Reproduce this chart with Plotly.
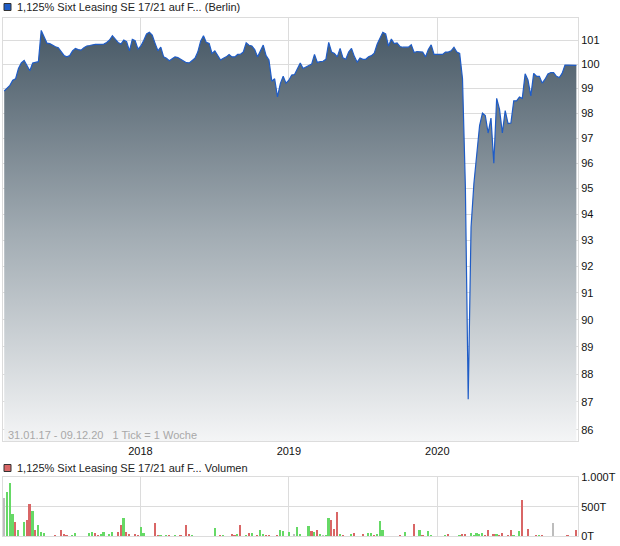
import math
import pandas as pd
import plotly.graph_objects as go

start_date = "2017-01-31"
end_label = "31.01.17 - 09.12.20\u00a0\u00a0\u00a01 Tick = 1 Woche"

prices = [
    98.90, 99.00, 99.13, 99.34, 99.40, 99.82, 100.05, 100.15, 99.95, 99.73,
    100.05, 100.07, 100.10, 101.40, 101.15, 100.87, 100.85, 100.77, 100.72, 100.68,
    100.50, 100.36, 100.30, 100.35, 100.55, 100.65, 100.60, 100.58, 100.68, 100.75,
    100.77, 100.80, 100.82, 100.82, 100.84, 100.83, 100.90, 101.00, 101.18, 101.05,
    100.90, 100.83, 101.00, 100.93, 100.55, 101.03, 100.97, 100.62, 100.75, 100.98,
    101.25, 101.32, 101.20, 100.86, 100.55, 100.70, 100.30, 100.24, 100.14, 100.22,
    100.30, 100.27, 100.20, 100.12, 100.06, 100.05, 100.14, 100.24, 100.50, 100.95,
    101.18, 100.90, 100.86, 100.44, 100.55, 100.38, 100.17, 100.24, 100.30, 100.40,
    100.30, 100.30, 100.40, 100.41, 100.50, 100.88, 100.78, 100.75, 100.60, 100.30,
    100.55, 100.79, 100.35, 100.17, 99.30, 99.40, 98.66, 99.20, 99.50, 99.22,
    99.34, 99.55, 99.57, 99.78, 100.05, 99.82, 99.88, 99.97, 100.00, 100.40,
    100.07, 100.10, 100.12, 100.20, 100.90, 100.50, 100.44, 100.30, 100.65, 100.26,
    100.20, 100.50, 100.65, 100.32, 100.08, 100.25, 100.20, 100.20, 100.30, 100.35,
    100.45, 100.82, 101.10, 101.32, 101.25, 100.75, 101.04, 100.85, 100.88, 100.73,
    100.70, 100.70, 100.70, 100.80, 100.48, 100.52, 100.52, 100.50, 100.30, 100.60,
    100.80, 100.40, 100.40, 100.40, 100.40, 100.50, 100.50, 100.55, 100.70, 100.50,
    100.44, 99.40, 95.10, 87.10, 93.50, 95.20, 96.50, 97.50, 98.00, 97.90,
    97.20, 97.80, 96.00, 98.60, 98.15, 97.20, 98.10, 97.58, 97.60, 98.50,
    98.50, 98.65, 98.60, 99.60, 99.35, 98.70, 99.62, 99.50, 99.50, 99.22,
    99.38, 99.60, 99.65, 99.65, 99.50, 99.45, 99.62, 99.96, 99.96, 99.96,
    99.96, 99.95,
]

volumes = [
    641, 753, 905, 377, 247, 107, 0, 247, 275, 545,
    433, 107, 191, 67, 62, 0, 0, 0, 11, 0,
    107, 39, 22, 0, 11, 56, 0, 0, 0, 0,
    62, 67, 51, 17, 34, 73, 0, 39, 73, 0,
    73, 191, 315, 67, 45, 0, 39, 28, 157, 56,
    0, 0, 0, 225, 22, 22, 0, 11, 22, 0,
    22, 0, 11, 0, 197, 39, 11, 0, 0, 0,
    0, 0, 0, 0, 146, 0, 22, 11, 0, 0,
    39, 28, 39, 191, 0, 22, 56, 56, 0, 22,
    107, 39, 22, 22, 0, 0, 22, 107, 90, 0,
    73, 0, 39, 157, 39, 0, 0, 174, 90, 73,
    107, 39, 22, 22, 309, 275, 129, 410, 39, 11,
    0, 0, 39, 56, 0, 0, 39, 0, 56, 56,
    28, 39, 259, 107, 0, 0, 0, 0, 0, 22,
    0, 73, 0, 0, 208, 0, 107, 28, 0, 90,
    11, 0, 0, 0, 0, 28, 39, 0, 0, 0,
    22, 39, 39, 0, 56, 28, 56, 39, 56, 28,
    107, 0, 39, 39, 22, 56, 0, 22, 107, 22,
    0, 90, 613, 0, 124, 0, 0, 22, 22, 22,
    0, 0, 0, 225, 0, 0, 0, 0, 11, 0,
    0, 107,
]

# u = up week, d = down week, n = unchanged, - = no trade
vol_dir = ("nuuudu-udd" "uduuu---d-" "ddd-uu----" "uudduu-uu-" "ddudd-dduu"
           "---ddu-ud-" "u-d-ddu---" "----u-du--" "ddud-udu-d" "uudd--duu-"
           "u-nuu--udu" "dunuudddud" "--ud--d-uu" "duuu-----d" "-u--d-ud-u"
           "u----ud---" "udd-uuuuud" "d-dudd-ddu" "-ud-d--dud" "---n----d-"
           "-d")

year_ticks = ["2018-01-01", "2019-01-01", "2020-01-01"]
year_labels = ["2018", "2019", "2020"]
price_ticks = list(range(86, 102))
vol_ticks = [0, 500, 1000]
vol_labels = ["0T", "500T", "1.000T"]
series_name = "1,125% Sixt Leasing SE 17/21 auf F..."

dates = pd.date_range(start_date, periods=len(prices), freq="7D")
dir_colors = {"u": "#66d966", "d": "#d96666", "n": "#bdbdbd", "-": "#bdbdbd"}
bar_colors = [dir_colors[c] for c in vol_dir]

W, H = 620, 546
FONT = "Liberation Sans, Arial, sans-serif"
GRID = "#dcdcdc"

def px_x(p):
    return p / W

def px_y(p):
    return 1 - p / H

fig = go.Figure()
fig.add_trace(go.Scatter(
    x=dates, y=[85.0] * len(dates), mode="lines", line=dict(width=0),
    hoverinfo="skip", showlegend=False, xaxis="x", yaxis="y"))
fig.add_trace(go.Scatter(
    x=dates, y=prices, mode="lines",
    line=dict(color="#1f5cc6", width=1.2),
    fill="tonexty",
    fillgradient=dict(type="vertical",
                      colorscale=[[0, "#f4f5f6"], [0.5, "#a2acb3"], [1, "#475865"]],
                      start=85.6, stop=101.5),
    showlegend=False, xaxis="x", yaxis="y"))
fig.add_trace(go.Bar(
    x=dates, y=volumes, marker=dict(color=bar_colors, line=dict(width=0)),
    width=4.2 * 86400000, showlegend=False, xaxis="x2", yaxis="y2"))

xrange = ["2017-01-28", "2020-12-12"]
fig.update_layout(
    width=W, height=H,
    margin=dict(l=0, r=0, t=0, b=0, pad=0, autoexpand=False),
    paper_bgcolor="white", plot_bgcolor="white", showlegend=False,
    font=dict(family=FONT, size=11, color="#111"),
    xaxis=dict(domain=[px_x(3), px_x(578)], range=xrange, type="date",
               tickvals=year_ticks, ticktext=year_labels, showgrid=True,
               gridcolor=GRID, ticks="", showline=True, linecolor=GRID,
               mirror=True, anchor="y", zeroline=False, automargin=False,
               tickfont=dict(size=11, color="#111")),
    yaxis=dict(domain=[px_y(441), px_y(18)], type="log",
               range=[math.log10(85.61), math.log10(101.92)], side="right",
               tickvals=price_ticks, ticktext=[str(v) for v in price_ticks],
               showgrid=True, gridcolor=GRID, ticks="", showline=True,
               linecolor=GRID, mirror=True, anchor="x", automargin=False,
               tickfont=dict(size=11, color="#111")),
    xaxis2=dict(domain=[px_x(3), px_x(578)], range=xrange, type="date",
                matches="x", anchor="y2", showticklabels=False,
                tickvals=year_ticks, showgrid=True, gridcolor=GRID, ticks="",
                showline=True, linecolor=GRID, mirror=True, automargin=False),
    yaxis2=dict(domain=[px_y(536.3), px_y(477)], range=[0, 1000], side="right",
                tickvals=vol_ticks, ticktext=vol_labels, showgrid=True,
                gridcolor=GRID, ticks="", showline=True, linecolor=GRID,
                mirror=True, anchor="x2", zeroline=False, automargin=False,
                tickfont=dict(size=11, color="#111")),
    bargap=0,
)

shapes = [
    dict(type="rect", xref="paper", yref="paper", x0=px_x(4), x1=px_x(11),
         y0=px_y(10.5), y1=px_y(3.5), fillcolor="#1f5cc6",
         line=dict(color="#333333", width=1)),
    dict(type="rect", xref="paper", yref="paper", x0=px_x(4), x1=px_x(11),
         y0=px_y(471.5), y1=px_y(464.5), fillcolor="#d96666",
         line=dict(color="#333333", width=1)),
]
annotations = [
    dict(xref="paper", yref="paper", x=px_x(15), y=px_y(7.5),
         text=series_name + " (Berlin)", showarrow=False, xanchor="left",
         yanchor="middle", font=dict(size=11, color="#222")),
    dict(xref="paper", yref="paper", x=px_x(15), y=px_y(468),
         text=series_name + " Volumen", showarrow=False, xanchor="left",
         yanchor="middle", font=dict(size=11, color="#222")),
    dict(xref="paper", yref="paper", x=px_x(6), y=px_y(435),
         text=end_label, showarrow=False, xanchor="left", yanchor="middle",
         font=dict(size=11, color="#a8a8a8")),
]
fig.update_layout(shapes=shapes, annotations=annotations)

fig.write_html(
    "out.html",
    config={"displayModeBar": False},
    post_script="document.body.style.margin='0px';document.body.style.padding='0px';",
)
